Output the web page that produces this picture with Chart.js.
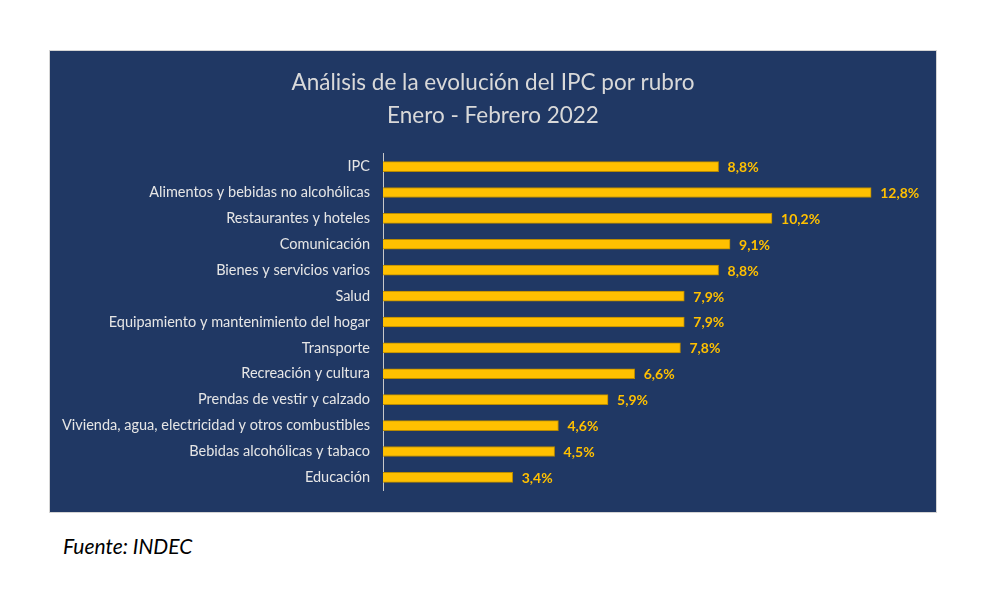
<!DOCTYPE html>
<html><head><meta charset="utf-8">
<script src="https://cdn.jsdelivr.net/npm/chart.js@4.4.0/dist/chart.umd.min.js"></script>
<style>
html,body{margin:0;padding:0;background:#fff;width:981px;height:596px;overflow:hidden;}
#panel{position:absolute;left:49px;top:50px;width:886px;height:461px;background:#203864;border:1px solid #d4d4d4;}
#c{display:block;}
#src{position:absolute;left:63px;top:533px;font-family:Lato,sans-serif;font-style:italic;font-size:21px;color:#000;}
</style></head>
<body>
<div id="panel"><canvas id="c" width="886" height="461"></canvas></div>
<div id="src">Fuente: INDEC</div>
<script>
const categories = ["IPC","Alimentos y bebidas no alcohólicas","Restaurantes y hoteles","Comunicación","Bienes y servicios varios","Salud","Equipamiento y mantenimiento del hogar","Transporte","Recreación y cultura","Prendas de vestir y calzado","Vivienda, agua, electricidad y otros combustibles","Bebidas alcohólicas y tabaco","Educación"];
const values = [8.8,12.8,10.2,9.1,8.8,7.9,7.9,7.8,6.6,5.9,4.6,4.5,3.4];
const titleLines = ["Análisis de la evolución del IPC por rubro","Enero - Febrero 2022"];

const valueLabels = {
  id:'valueLabels',
  afterDatasetsDraw(chart){
    const ctx = chart.ctx;
    const meta = chart.getDatasetMeta(0);
    ctx.save();
    ctx.font = 'bold 14px Lato, sans-serif';
    ctx.fillStyle = '#FFC000';
    ctx.textAlign = 'left';
    ctx.textBaseline = 'middle';
    meta.data.forEach((bar,i)=>{
      ctx.fillText(values[i].toFixed(1).replace('.',',')+'%', bar.x+9, bar.y+1);
    });
    ctx.restore();
  }
};

new Chart(document.getElementById('c'),{
  type:'bar',
  data:{labels:categories,datasets:[{data:values,backgroundColor:'#FFC000',borderColor:'#B88A00',borderWidth:1,barThickness:10}]},
  options:{
    indexAxis:'y',
    responsive:false,
    animation:false,
    layout:{padding:{top:0,bottom:18,left:0,right:0}},
    plugins:{
      legend:{display:false},
      tooltip:{enabled:false},
      title:{display:true,text:titleLines,color:'#d9d9d9',font:{family:'Lato, sans-serif',size:22.5,weight:'normal',lineHeight:1.47},padding:{top:15.5,bottom:21}}
    },
    scales:{
      x:{display:false,min:0,max:14.5},
      y:{
        grid:{display:false,drawTicks:false},
        border:{display:true,color:'#c8c8c8',width:1},
        ticks:{color:'#e6e6e6',padding:13,font:{family:'Lato, sans-serif',size:14.5}},
        afterFit(scale){scale.width=333;}
      }
    }
  },
  plugins:[valueLabels]
});
</script>
</body></html>
